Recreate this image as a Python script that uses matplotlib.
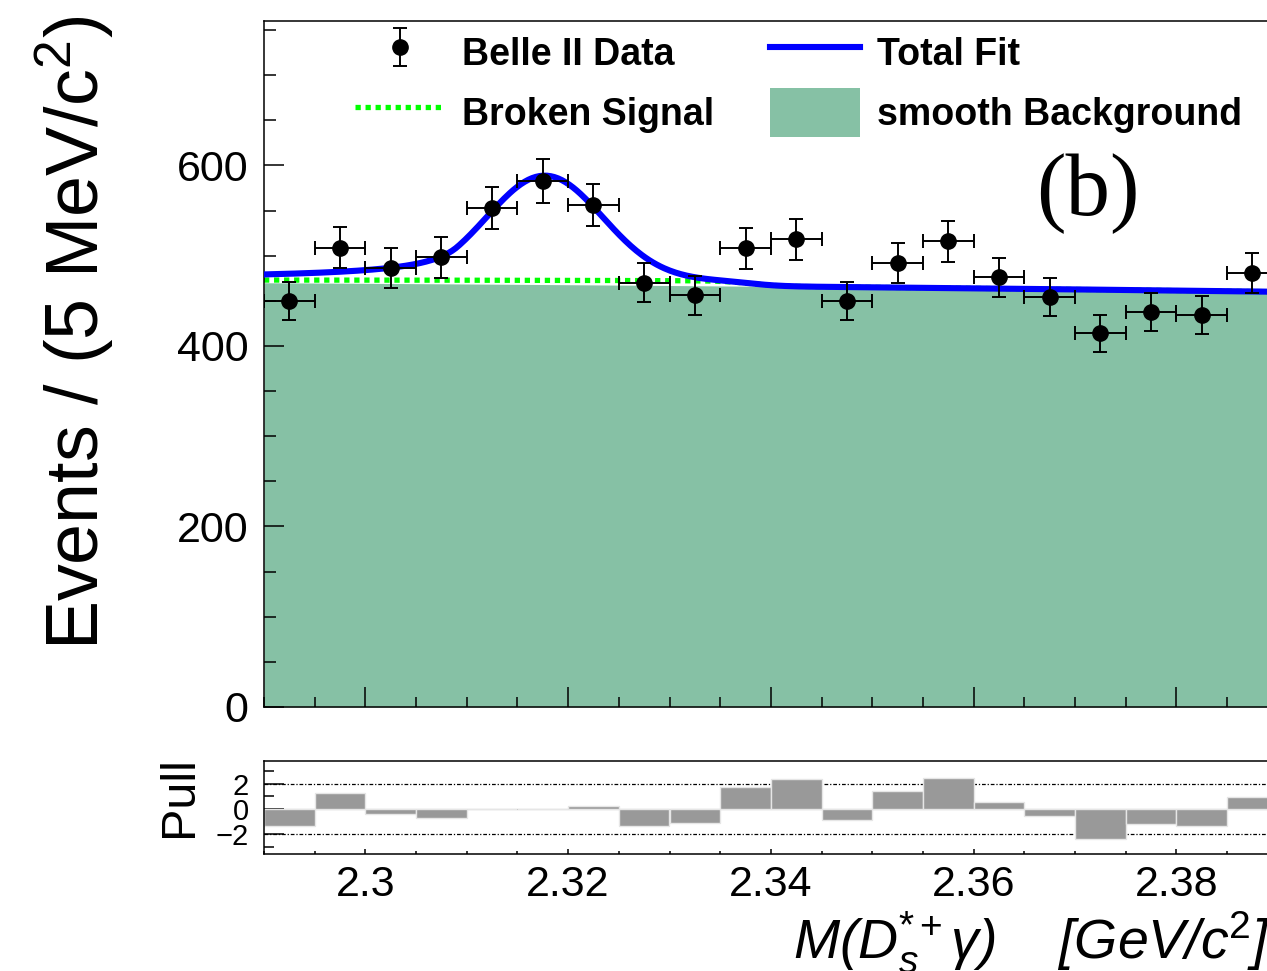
import numpy as np
import matplotlib
matplotlib.use("Agg")
import matplotlib.pyplot as plt
from matplotlib.patches import Patch
from matplotlib.lines import Line2D
from matplotlib.ticker import MultipleLocator

plt.rcParams['font.family'] = ['Liberation Sans', 'DejaVu Sans']
plt.rcParams['mathtext.fontset'] = 'custom'
plt.rcParams['mathtext.rm'] = 'Liberation Sans'
plt.rcParams['mathtext.it'] = 'Liberation Sans:italic'
plt.rcParams['mathtext.bf'] = 'Liberation Sans:bold'

# M(Ds*+ gamma) bin centres, 5 MeV wide bins
mass = [2.2925, 2.2975, 2.3025, 2.3075, 2.3125, 2.3175, 2.3225, 2.3275, 2.3325, 2.3375,
        2.3425, 2.3475, 2.3525, 2.3575, 2.3625, 2.3675, 2.3725, 2.3775, 2.3825, 2.3875]
events = [450, 509, 486, 498, 553, 583, 556, 470, 456, 508,
          518, 450, 492, 516, 476, 454, 414, 438, 434, 481]
pull = [-1.32, 1.29, -0.42, -0.74, 0.03, -0.02, 0.26, -1.32, -1.13, 1.74,
        2.34, -0.89, 1.42, 2.42, 0.58, -0.55, -2.39, -1.21, -1.34, 0.92]
bin_width = 0.005

# fit components
m_lo, m_hi = 2.29, 2.40
bg_coef = [470.0, -60.0, -400.0]          # polynomial in (m - m_lo)
broken_coef = [3.0, 60.0]
broken_edge, broken_width = 2.338, 0.0015
sig_amp, sig_mean, sig_sigma = 116.0, 2.3177, 0.0057
cb_alpha, cb_n = 1.5, 1.0


def background(m):
    u = m - m_lo
    return bg_coef[0] + bg_coef[1] * u + bg_coef[2] * u ** 2


def broken(m):
    u = m - m_lo
    return (broken_coef[0] + broken_coef[1] * u) / (1 + np.exp((m - broken_edge) / broken_width))


def crystal_ball(m):
    t = (m - sig_mean) / sig_sigma
    a = (cb_n / cb_alpha) ** cb_n * np.exp(-cb_alpha ** 2 / 2)
    b = cb_n / cb_alpha - cb_alpha
    core = np.exp(-t ** 2 / 2)
    tail = a * np.abs(b - t) ** (-cb_n)
    return sig_amp * np.where(t > -cb_alpha, core, tail)


m = np.linspace(m_lo, m_hi, 600)
bg = background(m)
bg_broken = bg + broken(m)
total = bg_broken + crystal_ball(m)

mass = np.array(mass)
events = np.array(events)

W, H = 1267, 971
fig = plt.figure(figsize=(W / 100, H / 100), dpi=100)
px_per_unit = 202.75 / 0.02
ax_w = (m_hi - m_lo) * px_per_unit
ax = fig.add_axes([264 / W, 1 - 707 / H, ax_w / W, 686 / H])
axp = fig.add_axes([264 / W, 1 - 854 / H, ax_w / W, 93 / H])

green = '#86c1a5'
ax.fill_between(m, 0, bg, color=green, lw=0, zorder=1)
ax.plot(m, bg_broken, color='#00ff00', lw=3.8, ls=(0, (1.0, 0.9)), zorder=2)
ax.plot(m, total, color='#0000ff', lw=4.4, zorder=3)
ax.errorbar(mass, events, yerr=np.sqrt(events), xerr=bin_width / 2, fmt='o',
            color='black', ms=11, elinewidth=1.4, capsize=5, capthick=1.4, zorder=4)

ax.set_xlim(m_lo, m_hi)
ax.set_ylim(0, 760)
ax.yaxis.set_major_locator(MultipleLocator(200))
ax.yaxis.set_minor_locator(MultipleLocator(50))
ax.xaxis.set_major_locator(MultipleLocator(0.02))
ax.xaxis.set_minor_locator(MultipleLocator(0.005))
ax.tick_params(axis='both', which='both', direction='in', top=False, right=False)
ax.tick_params(axis='x', which='major', length=14.4, width=1.1, labelbottom=False)
ax.tick_params(axis='x', which='minor', length=7.2, width=1.1)
ax.tick_params(axis='y', which='major', length=14.4, width=1.1, labelsize=31, pad=11)
ax.tick_params(axis='y', which='minor', length=8.6, width=1.1)
for s in ax.spines.values():
    s.set_linewidth(1.1)

# legend
data_proxy = ax.errorbar([np.nan], [np.nan], yerr=[1], fmt='o', color='black', ms=11,
                         elinewidth=1.4, capsize=5, capthick=1.4)
handles = [data_proxy,
           Line2D([], [], color='#00ff00', lw=3.8, ls=(0, (1.0, 0.9))),
           Line2D([], [], color='#0000ff', lw=4.4),
           Patch(facecolor=green, edgecolor='none')]
labels = ['Belle II Data', 'Broken Signal', 'Total Fit', 'smooth Background']
fig.legend(handles, labels, ncol=2, loc='upper left', frameon=False,
           bbox_to_anchor=(355 / W, 1 - 29 / H), bbox_transform=fig.transFigure,
           prop={'weight': 'bold', 'size': 27}, borderpad=0, borderaxespad=0,
           handlelength=2.4, handleheight=1.6, handletextpad=0.45,
           columnspacing=1.5, labelspacing=0.3)

ax.text(1088 / W, 1 - 194 / H, '(b)', transform=fig.transFigure, ha='center', va='center',
        fontsize=64, family='Liberation Serif')

# pull panel
axp.bar(mass, pull, width=bin_width, color='#999999', edgecolor='#e6e6e6', lw=1, zorder=2)
axp.axhline(0, color='#777777', lw=0.8, zorder=1)
for lvl in (-2, 2):
    axp.axhline(lvl, color='black', lw=0.9, ls=(0, (3, 1.5, 1, 1.5)), zorder=1)
axp.set_xlim(m_lo, m_hi)
axp.set_ylim(-3.55, 3.8)
axp.set_yticks([-2, 0, 2])
axp.set_yticklabels(['\u22122', '0', '2'])
axp.yaxis.set_minor_locator(MultipleLocator(1))
axp.set_xticks([2.30, 2.32, 2.34, 2.36, 2.38])
axp.set_xticklabels(['2.3', '2.32', '2.34', '2.36', '2.38'])
axp.xaxis.set_minor_locator(MultipleLocator(0.005))
axp.tick_params(axis='both', which='both', direction='in', top=False, right=False)
axp.tick_params(axis='x', which='major', length=3.6, width=1.1, labelsize=31, pad=8)
axp.tick_params(axis='x', which='minor', length=2.2, width=1.1)
axp.tick_params(axis='y', which='major', length=14.4, width=1.1, labelsize=21, pad=11)
axp.tick_params(axis='y', which='minor', length=7.2, width=1.1)
for s in axp.spines.values():
    s.set_linewidth(1.1)

fig.text(75 / W, 1 - 333 / H, 'Events / (5 MeV/c$^{2}$)', rotation=90,
         ha='center', va='center', fontsize=53)
fig.text(180 / W, 1 - 797 / H, 'Pull', rotation=90, ha='center', va='center', fontsize=35)
fig.text(793 / W, 1 - 958 / H, 'M(D$_{s}^{*+}$\u03b3)    [GeV/c$^{2}$]', style='italic',
         ha='left', va='baseline', fontsize=40)

fig.savefig('out.png', dpi=100)
